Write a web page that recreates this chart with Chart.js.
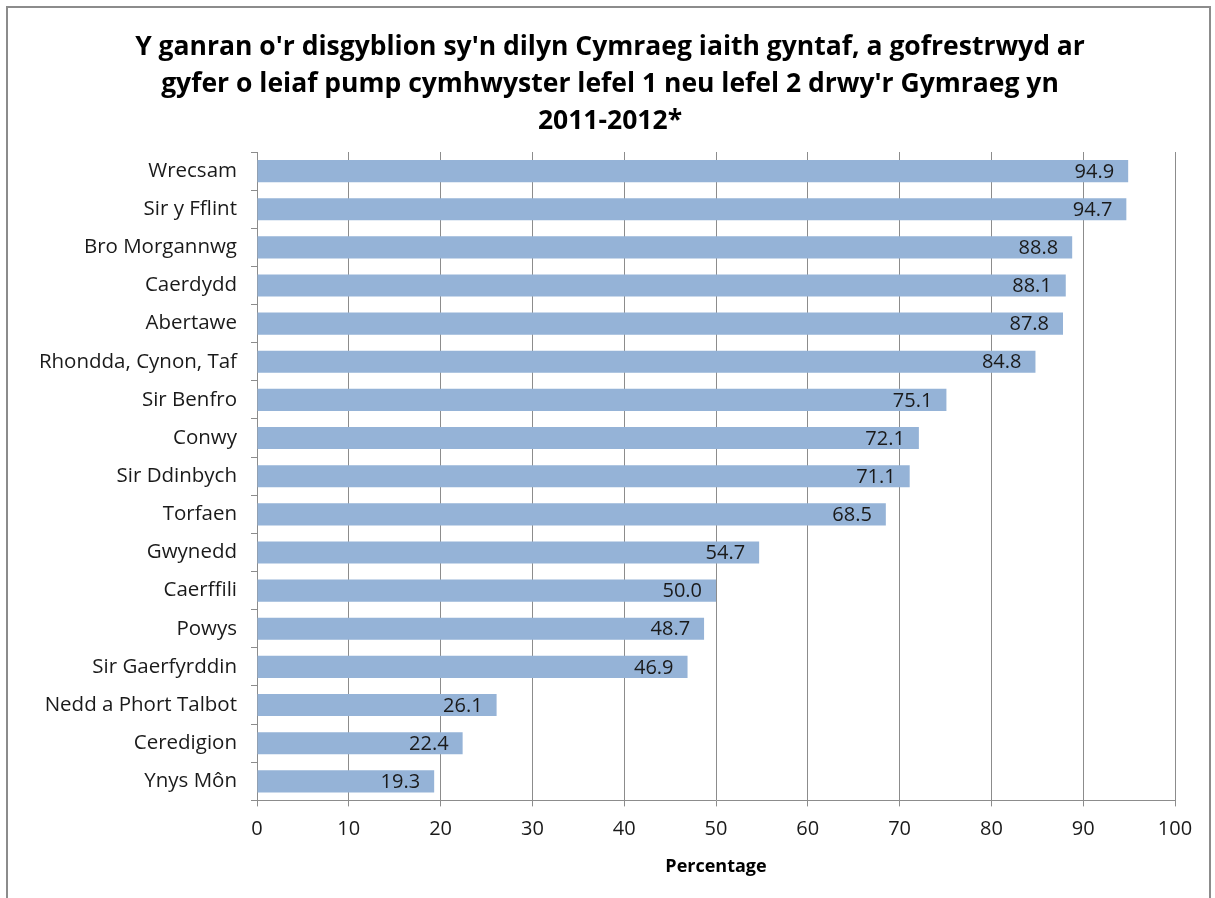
<!DOCTYPE html>
<html>
<head>
<meta charset="utf-8">
<script src="https://cdn.jsdelivr.net/npm/chart.js@4/dist/chart.umd.min.js"></script>
<style>
  html, body { margin: 0; padding: 0; background: #fff; }
  #wrap { position: relative; width: 1215px; height: 898px; }
  #frame { position: absolute; left: 6px; top: 6px; width: 1205px; height: 900px; border: 2px solid #8c8c8c; box-sizing: border-box; pointer-events: none; }
  canvas { position: absolute; left: 0; top: 0; }
</style>
</head>
<body>
<div id="wrap">
  <canvas id="report" width="1215" height="898"></canvas>
  <div id="frame"></div>
</div>
<script>
const titleLines = [
    "Y ganran o'r disgyblion sy'n dilyn Cymraeg iaith gyntaf, a gofrestrwyd ar",
    "gyfer o leiaf pump cymhwyster lefel 1 neu lefel 2 drwy'r Gymraeg yn",
    "2011-2012*"
];

const areas = [
    'Wrecsam', 'Sir y Fflint', 'Bro Morgannwg', 'Caerdydd', 'Abertawe',
    'Rhondda, Cynon, Taf', 'Sir Benfro', 'Conwy', 'Sir Ddinbych', 'Torfaen',
    'Gwynedd', 'Caerffili', 'Powys', 'Sir Gaerfyrddin', 'Nedd a Phort Talbot',
    'Ceredigion', 'Ynys Môn'
];

const percentages = [
    94.9, 94.7, 88.8, 88.1, 87.8,
    84.8, 75.1, 72.1, 71.1, 68.5,
    54.7, 50.0, 48.7, 46.9, 26.1,
    22.4, 19.3
];

const fontFamily = '"Open Sans", Lato, sans-serif';

// title centred on the whole picture, not on the plot
const chartTitle = {
    id: 'chartTitle',
    afterDraw(chart) {
        const ctx = chart.ctx;
        ctx.save();
        ctx.font = 'bold 26.5px ' + fontFamily;
        ctx.fillStyle = '#000';
        ctx.textAlign = 'center';
        ctx.textBaseline = 'middle';
        titleLines.forEach((line, i) => {
            ctx.fillText(line, 610, 47 + i * 37);
        });
        ctx.restore();
    }
};

// labels inside the bar end, like Excel's "inside end"
const barLabels = {
    id: 'barLabels',
    afterDatasetsDraw(chart) {
        const ctx = chart.ctx;
        const meta = chart.getDatasetMeta(0);
        ctx.save();
        ctx.font = '20px ' + fontFamily;
        ctx.fillStyle = '#1a1a1a';
        ctx.textAlign = 'right';
        ctx.textBaseline = 'middle';
        meta.data.forEach((bar, i) => {
            ctx.fillText(percentages[i].toFixed(1), bar.x - 14, bar.y + 1);
        });
        ctx.restore();
    }
};

const ctx = document.getElementById('report').getContext('2d');
const report_container = new Chart(ctx, {
    type: 'bar',
    data: {
        labels: areas,
        datasets: [{
            data: percentages,
            backgroundColor: '#95b3d7',
            borderWidth: 0,
            barPercentage: 0.58,
            categoryPercentage: 1
        }]
    },
    options: {
        indexAxis: 'y',
        responsive: false,
        animation: false,
        layout: {
            padding: { left: 0, right: 40, top: 152, bottom: 20 }
        },
        plugins: {
            legend: { display: false },
            tooltip: { enabled: false },
            title: { display: false }
        },
        scales: {
            x: {
                min: 0,
                max: 100,
                ticks: {
                    stepSize: 10,
                    color: '#1a1a1a',
                    font: { family: fontFamily, size: 20 },
                    padding: 11
                },
                grid: {
                    color: '#8c8c8c',
                    lineWidth: 1,
                    tickLength: 6,
                    drawTicks: true
                },
                border: { color: '#8c8c8c' },
                title: {
                    display: true,
                    text: 'Percentage',
                    color: '#000',
                    font: { family: fontFamily, size: 18, weight: 'bold' },
                    padding: { top: 4, bottom: 0 }
                }
            },
            y: {
                ticks: {
                    color: '#1a1a1a',
                    font: { family: fontFamily, size: 20.5 },
                    padding: 14
                },
                grid: {
                    offset: true,
                    drawOnChartArea: false,
                    drawTicks: true,
                    tickLength: 6,
                    color: '#8c8c8c'
                },
                border: { color: '#8c8c8c' },
                afterFit(scale) {
                    scale.width = 257;
                }
            }
        }
    },
    plugins: [barLabels, chartTitle]
});
</script>
</body>
</html>
